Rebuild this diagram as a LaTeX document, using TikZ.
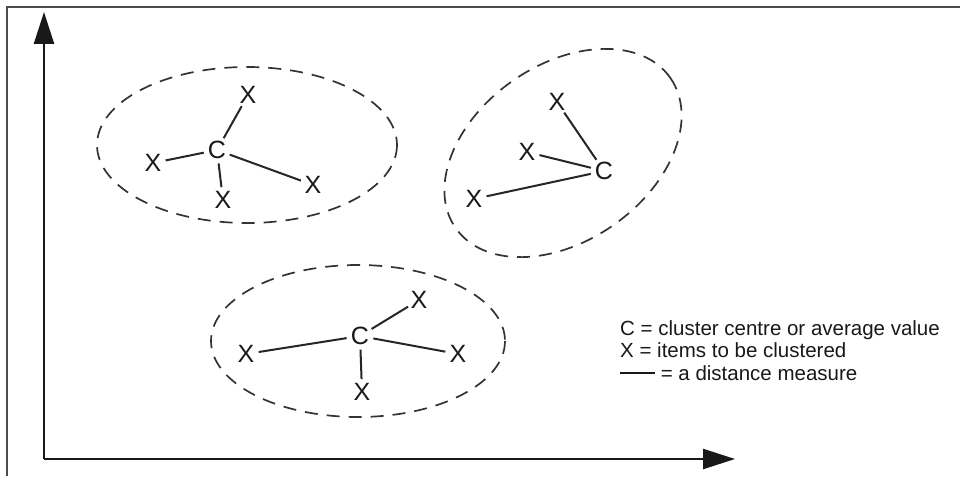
\documentclass[tikz,border=0pt]{standalone}
\usepackage{fontspec}
\setmainfont{Liberation Sans}
\usetikzlibrary{arrows.meta}
\begin{document}
\begin{tikzpicture}[x=1pt,y=-1pt,
  pt/.style={shape=circle,inner sep=0.5pt,font=\fontsize{25}{25}\selectfont,text=black!90},
  link/.style={line width=2pt,draw=black!85},
  clus/.style={line width=1.7pt,draw=black!80,dash pattern=on 13pt off 9pt},
  axis/.style={line width=2.4pt,draw=black!90,-{Triangle[length=32pt,width=20pt]}},
  legend/.style={anchor=base west,inner sep=0pt,font=\fontsize{20.5}{20.5}\selectfont,text=black!90}]
\useasboundingbox (0,0) rectangle (960,476);
\fill[white] (0,0) rectangle (960,476);
% frame
\coordinate (f1) at (7,476);
\coordinate (f2) at (7,7);
\coordinate (f3) at (960,7);
\draw[line width=1.8pt,draw=black!70] (f1) -- (f2) -- (f3);
% axes
\coordinate (O) at (44,459);
\coordinate (Ytop) at (44,12);
\coordinate (Xend) at (735,459);
\draw[axis] (O) -- (Ytop);
\draw[axis] (O) -- (Xend);
% cluster 1
\draw[clus] (247,145) ellipse [x radius=150, y radius=78];
\node[pt] (c1) at (217,150) {C};
\node[pt] (a1) at (248,95) {X};
\node[pt] (a2) at (153,163) {X};
\node[pt] (a3) at (223,200) {X};
\node[pt] (a4) at (313,185) {X};
\draw[link] (c1) -- (a1);
\draw[link] (c1) -- (a2);
\draw[link] (c1) -- (a3);
\draw[link] (c1) -- (a4);
% cluster 2
\draw[clus] (563,153) ellipse [x radius=131, y radius=88, rotate=35];
\node[pt] (c2) at (604,171) {C};
\node[pt] (b1) at (557,102) {X};
\node[pt] (b2) at (527,152) {X};
\node[pt] (b3) at (474,199) {X};
\draw[link] (c2) -- (b1);
\draw[link] (c2) -- (b2);
\draw[link] (c2) -- (b3);
% cluster 3
\draw[clus] (358,341) ellipse [x radius=147, y radius=76];
\node[pt] (c3) at (360,336) {C};
\node[pt] (d1) at (419,300) {X};
\node[pt] (d2) at (246,354) {X};
\node[pt] (d3) at (458,354) {X};
\node[pt] (d4) at (362,392) {X};
\draw[link] (c3) -- (d1);
\draw[link] (c3) -- (d2);
\draw[link] (c3) -- (d3);
\draw[link] (c3) -- (d4);
% legend
\node[legend] (l1) at (620,335) {C = cluster centre or average value};
\node[legend] (l2) at (620,357) {X = items to be clustered};
\node[legend] (l3) at (620,380) {\rule[0.3em]{1.7em}{1.4pt} = a distance measure};
\end{tikzpicture}
\end{document}
